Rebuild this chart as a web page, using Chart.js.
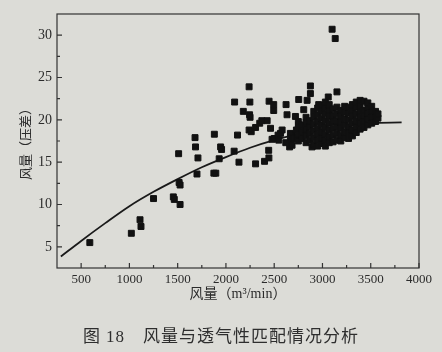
<!DOCTYPE html>
<html>
<head>
<meta charset="utf-8">
<script src="https://cdn.jsdelivr.net/npm/chart.js@4.4.0/dist/chart.umd.min.js"></script>
<style>
  html, body { margin: 0; padding: 0; background: #dcdcd7; }
  #wrap { position: relative; width: 442px; height: 352px; }
  #grafico { display: block; }
  #caption {
    position: absolute; left: 0; top: 327px; width: 442px;
    text-align: center; line-height: 20px; color: #2e2e2e;
    font-size: 17px; letter-spacing: 1px;
    font-family: 'Liberation Serif', 'Noto Sans CJK SC', sans-serif;
  }
</style>
</head>
<body>
<div id="wrap">
  <canvas id="grafico" width="442" height="352"></canvas>
  <div id="caption">图 18　风量与透气性匹配情况分析</div>
</div>
<script>
// Datos (风量 m³/min, 压差)
const caudal = [
  590, 1020, 1110, 1120, 1250, 1455, 1465, 1525, 1515, 1525, 1510,
  1680, 1685, 1710, 1700, 1880, 1875, 1895, 1945, 1955, 1930,
  2085, 2120, 2135, 2090, 2180, 2240, 2248, 2245, 2250, 2240, 2262,
  2307, 2307, 2350, 2372, 2400, 2427, 2445, 2443, 2447, 2495, 2495,
  2462, 2478, 2500, 2547, 2540, 2565, 2582, 2623, 2633, 2660, 2668,
  2685, 2668, 2720, 2754, 2806, 2841, 2875, 2875, 2892, 2754, 2823,
  2771, 2961, 3060, 3150, 3100, 3132, 2685, 2700, 2620, 2730, 2740,
  // nube densa 2750-3580
  2750, 2750, 2750, 2750,
  2790, 2790, 2790,
  2830, 2830, 2830, 2830, 2830,
  2870, 2870, 2870, 2870,
  2910, 2910, 2910, 2910, 2910, 2910,
  2950, 2950, 2950, 2950, 2950, 2950, 2950,
  2990, 2990, 2990, 2990, 2990, 2990, 2990,
  3030, 3030, 3030, 3030, 3030, 3030, 3030, 3030,
  3070, 3070, 3070, 3070, 3070, 3070, 3070,
  3110, 3110, 3110, 3110, 3110, 3110,
  3150, 3150, 3150, 3150, 3150, 3150,
  3190, 3190, 3190, 3190, 3190, 3190,
  3230, 3230, 3230, 3230, 3230, 3230,
  3270, 3270, 3270, 3270, 3270, 3270,
  3310, 3310, 3310, 3310, 3310, 3310,
  3350, 3350, 3350, 3350, 3350, 3350,
  3390, 3390, 3390, 3390, 3390, 3390,
  3430, 3430, 3430, 3430, 3430,
  3470, 3470, 3470, 3470, 3470,
  3510, 3510, 3510, 3510,
  3550, 3550, 3550,
  3575, 3575
];
const presion = [
  5.5, 6.6, 8.2, 7.4, 10.7, 10.9, 10.6, 10.0, 12.6, 12.3, 16.0,
  17.9, 16.8, 15.5, 13.6, 18.3, 13.7, 13.7, 16.8, 16.5, 15.4,
  16.3, 18.2, 15.0, 22.1, 21.0, 23.9, 22.1, 20.6, 20.3, 18.8, 18.6,
  19.1, 14.8, 19.6, 19.9, 15.1, 19.9, 15.5, 16.4, 22.2, 21.8, 21.1,
  19.0, 17.7, 17.8, 17.6, 18.2, 18.4, 18.8, 21.8, 20.6, 16.8, 17.6,
  18.2, 18.4, 20.4, 22.4, 21.2, 22.3, 24.0, 23.1, 16.8, 19.4, 19.0,
  18.2, 21.8, 22.7, 23.3, 30.7, 29.6, 17.0, 17.8, 17.3, 18.8, 17.8,
  // nube densa
  17.5, 18.3, 19.1, 19.8,
  17.8, 18.6, 19.4,
  17.3, 18.1, 18.9, 19.7, 20.3,
  17.6, 18.4, 19.2, 19.9,
  17.1, 17.9, 18.7, 19.5, 20.3, 21.0,
  16.9, 17.6, 18.3, 19.0, 19.8, 20.6, 21.4,
  17.2, 17.9, 18.6, 19.4, 20.2, 21.0, 21.7,
  16.9, 17.6, 18.3, 19.1, 19.9, 20.7, 21.4, 22.1,
  17.3, 18.0, 18.8, 19.6, 20.4, 21.1, 21.8,
  17.4, 18.2, 19.0, 19.8, 20.5, 21.3,
  17.6, 18.4, 19.2, 19.9, 20.7, 21.5,
  17.5, 18.2, 19.0, 19.7, 20.4, 21.1,
  17.9, 18.6, 19.4, 20.1, 20.9, 21.6,
  17.8, 18.5, 19.2, 20.0, 20.8, 21.5,
  18.1, 18.8, 19.6, 20.4, 21.1, 21.8,
  18.5, 19.2, 19.9, 20.7, 21.5, 22.1,
  18.9, 19.6, 20.3, 21.0, 21.6, 22.3,
  19.1, 19.8, 20.5, 21.1, 22.2,
  19.4, 20.1, 20.8, 21.5, 22.0,
  19.6, 20.3, 21.0, 21.6,
  19.8, 20.4, 21.0,
  20.2, 20.7
];

// Curva de ajuste
const ajusteX = [290, 500, 750, 1000, 1250, 1500, 1750, 2000, 2250, 2500, 2750, 3000, 3250, 3500, 3820];
const ajusteY = [3.85, 5.7, 7.8, 9.8, 11.5, 13.0, 14.4, 15.6, 16.7, 17.6, 18.3, 18.9, 19.3, 19.6, 19.7];

// Marcas de los ejes
const xTicks = [500, 1000, 1500, 2000, 2500, 3000, 3500, 4000];
const xMinor = [750, 1250, 1750, 2250, 2750, 3250, 3750];
const yTicks = [5, 10, 15, 20, 25, 30];
const yMinor = [7.5, 12.5, 17.5, 22.5, 27.5];

const colorTinta = '#1a1a1a';
const colorTexto = '#2b2b2b';
const fuenteSerif = "'Liberation Serif', 'Noto Sans CJK SC', serif";

// Marco y ticks hacia dentro (estilo Origin)
const marcoEjes = {
  id: 'marcoEjes',
  afterDatasetsDraw(chart) {
    const { ctx, chartArea: a, scales: { x, y } } = chart;
    ctx.save();
    ctx.strokeStyle = '#333';
    ctx.lineWidth = 1.2;
    ctx.strokeRect(a.left, a.top, a.right - a.left, a.bottom - a.top);
    ctx.beginPath();
    xTicks.forEach(v => {
      const px = x.getPixelForValue(v);
      ctx.moveTo(px, a.bottom);
      ctx.lineTo(px, a.bottom - 5);
    });
    xMinor.forEach(v => {
      const px = x.getPixelForValue(v);
      ctx.moveTo(px, a.bottom);
      ctx.lineTo(px, a.bottom - 3);
    });
    yTicks.forEach(v => {
      const py = y.getPixelForValue(v);
      ctx.moveTo(a.left, py);
      ctx.lineTo(a.left + 5, py);
    });
    yMinor.forEach(v => {
      const py = y.getPixelForValue(v);
      ctx.moveTo(a.left, py);
      ctx.lineTo(a.left + 3, py);
    });
    ctx.stroke();
    ctx.restore();
  }
};

const puntos = caudal.map((c, i) => ({ x: c, y: presion[i] }));
const curva = ajusteX.map((c, i) => ({ x: c, y: ajusteY[i] }));

new Chart(document.getElementById('grafico'), {
  type: 'scatter',
  data: {
    datasets: [
      {
        type: 'line',
        data: curva,
        borderColor: colorTinta,
        borderWidth: 1.8,
        pointRadius: 0,
        cubicInterpolationMode: 'monotone',
        fill: false,
        order: 2
      },
      {
        data: puntos,
        pointStyle: 'rect',
        pointRadius: 4.2,
        backgroundColor: '#111',
        borderColor: '#111',
        borderWidth: 1,
        order: 1
      }
    ]
  },
  options: {
    responsive: false,
    devicePixelRatio: 1,
    animation: false,
    layout: { padding: { left: 17, right: 23, top: 14, bottom: 49 } },
    plugins: {
      legend: { display: false },
      tooltip: { enabled: false }
    },
    scales: {
      x: {
        type: 'linear',
        min: 250,
        max: 4000,
        afterBuildTicks: s => { s.ticks = xTicks.map(v => ({ value: v })); },
        afterFit: s => { s.height = 35; },
        grid: { display: false, drawTicks: false, tickLength: 0 },
        border: { display: false },
        ticks: {
          color: colorTexto,
          padding: 4,
          maxRotation: 0,
          autoSkip: false,
          callback: v => String(v),
          font: { family: fuenteSerif, size: 13 }
        },
        title: {
          display: true,
          text: '风量（m³/min）',
          color: colorTexto,
          padding: 0,
          font: { family: fuenteSerif, size: 14 }
        }
      },
      y: {
        type: 'linear',
        min: 2.5,
        max: 32.5,
        afterBuildTicks: s => { s.ticks = yTicks.map(v => ({ value: v })); },
        afterFit: s => { s.width = 40; },
        grid: { display: false, drawTicks: false, tickLength: 0 },
        border: { display: false },
        ticks: {
          color: colorTexto,
          padding: 5,
          callback: v => String(v),
          font: { family: fuenteSerif, size: 14 }
        },
        title: {
          display: true,
          text: '风量（压差）',
          color: colorTexto,
          padding: 0,
          font: { family: "'Noto Sans CJK SC', sans-serif", size: 13 }
        }
      }
    }
  },
  plugins: [marcoEjes]
});
</script>
</body>
</html>
